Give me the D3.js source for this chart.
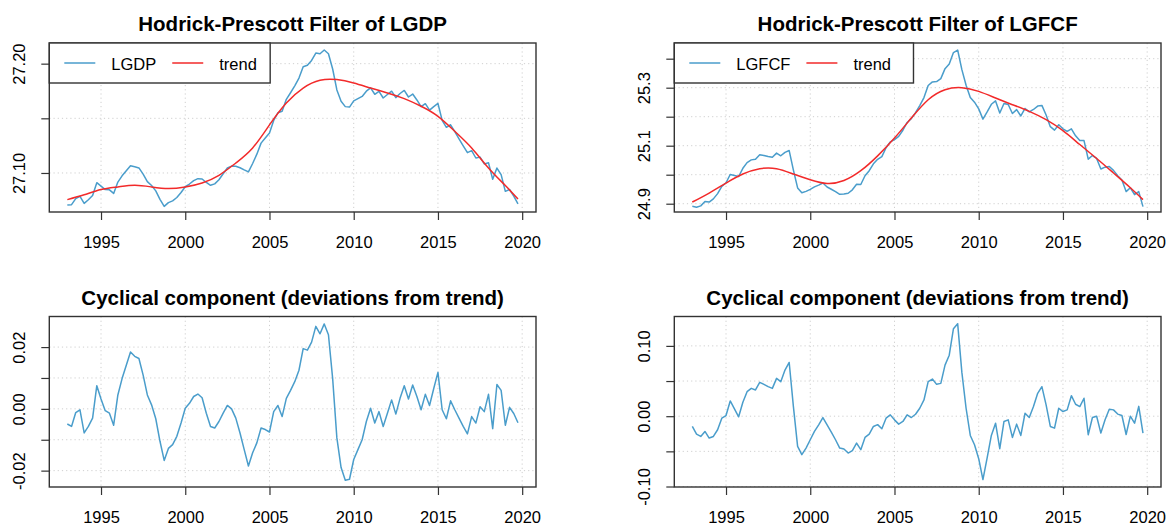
<!DOCTYPE html>
<html><head><meta charset="utf-8">
<script src="https://cdn.jsdelivr.net/npm/d3@7"></script>
<style>
body{margin:0;background:#fff}
svg{display:block}
text{font-family:"Liberation Sans",Arial,sans-serif;fill:#000}
</style></head>
<body><svg id="chart" width="1173" height="527"></svg>
<script>
// ---------------- DATA ----------------
// quarterly time index 1993Q1 .. 2019Q4
const quarters = d3.range(108).map(i => 1993 + i / 4);

const lgdp = [27.0707,27.0710,27.0766,27.0786,27.0722,27.0755,27.0794,27.0911,
27.0880,27.0848,27.0846,27.0813,27.0917,27.0974,27.1021,27.1067,
27.1057,27.1046,27.0989,27.0921,27.0885,27.0836,27.0759,27.0694,
27.0729,27.0745,27.0776,27.0822,27.0874,27.0899,27.0930,27.0948,
27.0945,27.0913,27.0887,27.0900,27.0938,27.0993,27.1046,27.1063,
27.1061,27.1048,27.1028,27.1010,27.1087,27.1172,27.1273,27.1320,
27.1365,27.1481,27.1551,27.1565,27.1674,27.1734,27.1797,27.1868,
27.1972,27.1985,27.2029,27.2097,27.2091,27.2125,27.2091,27.1951,
27.1760,27.1656,27.1607,27.1603,27.1659,27.1680,27.1700,27.1748,
27.1779,27.1720,27.1746,27.1686,27.1718,27.1748,27.1689,27.1727,
27.1755,27.1695,27.1722,27.1668,27.1607,27.1634,27.1575,27.1607,
27.1636,27.1481,27.1418,27.1441,27.1378,27.1313,27.1248,27.1186,
27.1204,27.1137,27.1145,27.1083,27.1093,27.0942,27.1045,27.0985,
27.0832,27.0849,27.0788,27.0717];

const trendYears = [1993,1994,1995,1996,1997,1998,1999,2000,2001,2002,2003,2004,2005,
2006,2007,2008,2009,2010,2011,2012,2013,2014,2015,2016,2017,2018,2019,2019.75];

const lgdpTrend = [27.0756,27.0800,27.0848,27.0872,27.0887,27.0872,27.0857,27.0872,
27.0909,27.0979,27.1091,27.1229,27.1440,27.1640,27.1777,27.1848,27.1854,27.1823,
27.1777,27.1732,27.1680,27.1610,27.1518,27.1381,27.1229,27.1046,27.0885,27.0762];

const lgdpCycle = [-0.0049,-0.0057,-0.0012,-0.0003,-0.0078,-0.0057,-0.0030,0.0075,
0.0032,-0.0006,-0.0014,-0.0053,0.0045,0.0098,0.0141,0.0184,
0.0170,0.0163,0.0109,0.0045,0.0013,-0.0032,-0.0105,-0.0167,
-0.0128,-0.0116,-0.0089,-0.0046,0.0002,0.0018,0.0040,0.0048,
0.0036,-0.0014,-0.0057,-0.0062,-0.0041,-0.0014,0.0011,0.0000,
-0.0030,-0.0078,-0.0132,-0.0185,-0.0142,-0.0110,-0.0062,-0.0067,
-0.0075,-0.0009,0.0011,-0.0025,0.0034,0.0060,0.0088,0.0125,
0.0195,0.0190,0.0216,0.0267,0.0243,0.0275,0.0240,0.0098,
-0.0094,-0.0190,-0.0231,-0.0228,-0.0164,-0.0132,-0.0100,-0.0041,
0.0002,-0.0046,-0.0009,-0.0057,-0.0014,0.0029,-0.0017,0.0034,
0.0075,0.0032,0.0077,0.0040,-0.0003,0.0047,0.0011,0.0066,
0.0118,-0.0003,-0.0032,0.0026,-0.0003,-0.0030,-0.0057,-0.0081,
-0.0025,-0.0046,0.0007,-0.0009,0.0047,-0.0064,0.0079,0.0060,
-0.0053,0.0005,-0.0015,-0.0045];

const lgfcf = [24.8911,24.8880,24.8925,24.9073,24.9057,24.9166,24.9348,24.9599,
24.9722,25.0008,24.9972,24.9937,25.0221,25.0418,25.0511,25.0534,
25.0688,25.0660,25.0627,25.0603,25.0745,25.0652,25.0771,25.0833,
25.0160,24.9545,24.9379,24.9424,24.9493,24.9579,24.9641,24.9713,
24.9577,24.9499,24.9415,24.9322,24.9333,24.9361,24.9479,24.9672,
24.9662,24.9964,25.0139,25.0376,25.0530,25.0625,25.0929,25.1130,
25.1212,25.1324,25.1534,25.1801,25.1935,25.2140,25.2383,25.2659,
25.3077,25.3200,25.3212,25.3312,25.3657,25.3816,25.4211,25.4299,
25.3623,25.3082,25.2663,25.2500,25.2270,25.1916,25.2165,25.2428,
25.2545,25.2125,25.2454,25.2420,25.2112,25.2244,25.2025,25.2284,
25.2165,25.2249,25.2366,25.2389,25.2057,25.1656,25.1537,25.1725,
25.1583,25.1492,25.1579,25.1342,25.1177,25.1175,25.0536,25.0661,
25.0560,25.0195,25.0260,25.0285,25.0150,24.9963,24.9815,24.9418,
24.9550,24.9313,24.9417,24.8900];

const lgfcfTrend = [24.9057,24.9368,24.9713,25.0023,25.0207,25.0207,25.0023,24.9828,
24.9700,24.9800,25.0138,25.0650,25.1264,25.1954,25.2586,25.2931,25.3000,25.2874,
25.2644,25.2414,25.2184,25.1897,25.1517,25.1040,25.0560,25.0060,24.9550,24.9140];

const lgfcfCycle = [-0.0146,-0.0255,-0.0288,-0.0217,-0.0311,-0.0288,-0.0193,-0.0028,
0.0009,0.0217,0.0104,-0.0009,0.0198,0.0349,0.0396,0.0373,
0.0481,0.0453,0.0420,0.0396,0.0538,0.0491,0.0656,0.0764,
0.0137,-0.0429,-0.0547,-0.0453,-0.0335,-0.0217,-0.0123,-0.0019,
-0.0123,-0.0226,-0.0335,-0.0453,-0.0467,-0.0524,-0.0490,-0.0382,
-0.0476,-0.0302,-0.0255,-0.0146,-0.0120,-0.0179,-0.0028,0.0019,
-0.0052,-0.0113,-0.0075,0.0019,-0.0019,0.0028,0.0113,0.0231,
0.0491,0.0528,0.0453,0.0467,0.0726,0.0868,0.1245,0.1316,
0.0623,0.0113,-0.0274,-0.0406,-0.0604,-0.0901,-0.0594,-0.0274,
-0.0099,-0.0462,-0.0075,-0.0052,-0.0302,-0.0113,-0.0274,0.0042,
-0.0019,0.0137,0.0325,0.0420,0.0160,-0.0146,-0.0170,0.0113,
0.0066,0.0090,0.0292,0.0170,0.0137,0.0255,-0.0264,-0.0019,
0.0000,-0.0240,-0.0050,0.0100,0.0090,0.0030,0.0010,-0.0260,
0.0000,-0.0100,0.0140,-0.0240];

const xTicks = [1995, 2000, 2005, 2010, 2015, 2020];
const lgdpYTicks = [27.10, 27.15, 27.20];
const lgdpYLabels = {"27.1": "27.10", "27.2": "27.20"};
const lgfcfYTicks = [24.9, 25.0, 25.1, 25.2, 25.3, 25.4];
const lgfcfYLabels = {"24.9": "24.9", "25.1": "25.1", "25.3": "25.3"};
const cyc1YTicks = [-0.02, -0.01, 0, 0.01, 0.02];
const cyc1YLabels = {"-0.02": "-0.02", "0": "0.00", "0.02": "0.02"};
const cyc2YTicks = [-0.10, -0.05, 0, 0.05, 0.10];
const cyc2YLabels = {"-0.1": "-0.10", "0": "0.00", "0.1": "0.10"};

// ---------------- STYLE / LAYOUT ----------------
const BLUE = "#4a9dcb", RED = "#f22a2a";
const xDomain = [1991.93, 2020.82];
const svg = d3.select("#chart");

const panels = [
  {box:[49.3,536,43,212], yDomain:[27.0643,27.2189], yTicks:lgdpYTicks, yLabels:lgdpYLabels,
   title:"Hodrick-Prescott Filter of LGDP",
   lines:[{x:quarters,y:lgdp,color:BLUE},{x:trendYears,y:lgdpTrend,color:RED,smooth:true}],
   legend:[["LGDP",BLUE],["trend",RED]]},
  {box:[674.3,1161,43,212], yDomain:[24.8714,25.4541], yTicks:lgfcfYTicks, yLabels:lgfcfYLabels,
   title:"Hodrick-Prescott Filter of LGFCF",
   lines:[{x:quarters,y:lgfcf,color:BLUE},{x:trendYears,y:lgfcfTrend,color:RED,smooth:true}],
   legend:[["LGFCF",BLUE],["trend",RED]]},
  {box:[49.3,536,316.5,487], yDomain:[-0.0253,0.0299], yTicks:cyc1YTicks, yLabels:cyc1YLabels,
   title:"Cyclical component (deviations from trend)",
   lines:[{x:quarters,y:lgdpCycle,color:BLUE}]},
  {box:[674.3,1161,316.5,487], yDomain:[-0.1007,0.1418], yTicks:cyc2YTicks, yLabels:cyc2YLabels,
   title:"Cyclical component (deviations from trend)",
   lines:[{x:quarters,y:lgfcfCycle,color:BLUE}]}
];

panels.forEach(p => {
  const [x0,x1,y0,y1] = p.box;
  const x = d3.scaleLinear().domain(xDomain).range([x0,x1]);
  const y = d3.scaleLinear().domain(p.yDomain).range([y1,y0]);
  const g = svg.append("g");

  // grid
  g.selectAll(".gx").data(xTicks).join("line")
    .attr("x1",d=>x(d)).attr("x2",d=>x(d)).attr("y1",y0).attr("y2",y1)
    .attr("stroke","#cfcfcf").attr("stroke-width",1).attr("stroke-dasharray","1.2,3");
  g.selectAll(".gy").data(p.yTicks).join("line")
    .attr("x1",x0).attr("x2",x1).attr("y1",d=>y(d)).attr("y2",d=>y(d))
    .attr("stroke","#cfcfcf").attr("stroke-width",1).attr("stroke-dasharray","1.2,3");

  // lines
  p.lines.forEach(l => {
    const gen = d3.line().x((d,i)=>x(l.x[i])).y(d=>y(d));
    if (l.smooth) gen.curve(d3.curveNatural);
    g.append("path").datum(l.y).attr("d",gen)
      .attr("fill","none").attr("stroke",l.color).attr("stroke-width",1.5)
      .attr("stroke-linejoin","round");
  });

  // axes
  const ax = g.append("g").attr("transform",`translate(0,${y1})`)
    .call(d3.axisBottom(x).tickValues(xTicks).tickSize(8).tickSizeOuter(0).tickPadding(10).tickFormat(d3.format("d")));
  ax.select(".domain").remove();
  ax.selectAll("line").attr("stroke","#333").attr("stroke-width",1.2);
  ax.selectAll("text").attr("font-size","16.5px").attr("font-family","Liberation Sans, Arial, sans-serif")
    .attr("fill","#222").attr("dy",null).attr("y",30).attr("dominant-baseline","central");

  const ay = g.append("g").attr("transform",`translate(${x0},0)`)
    .call(d3.axisLeft(y).tickValues(p.yTicks).tickSize(8).tickSizeOuter(0)
      .tickFormat(d => p.yLabels[String(+d.toFixed(2))] || ""));
  ay.select(".domain").remove();
  ay.selectAll("line").attr("stroke","#333").attr("stroke-width",1.2);
  ay.selectAll("text").attr("font-size","16.5px").attr("font-family","Liberation Sans, Arial, sans-serif")
    .attr("fill","#222").attr("dy",null).attr("x",0).attr("y",-30)
    .attr("transform","rotate(-90)").attr("text-anchor","middle").attr("dominant-baseline","central");

  // box
  g.append("rect").attr("x",x0).attr("y",y0).attr("width",x1-x0).attr("height",y1-y0)
    .attr("fill","none").attr("stroke","#333").attr("stroke-width",1.4);

  // title
  g.append("text").attr("x",(x0+x1)/2).attr("y",y0-12).attr("text-anchor","middle")
    .attr("font-weight","bold").attr("font-size","20.5px").text(p.title);

  // legend
  if (p.legend) {
    const lg = g.append("g");
    const ly = 63;
    const texts = p.legend.map(([t]) => t);
    const tmp = lg.selectAll(".tmp").data(texts).join("text").attr("font-size","16.5px").text(d=>d);
    const maxW = d3.max(tmp.nodes(), n => n.getComputedTextLength());
    tmp.remove();
    const stride = maxW + 63;
    const w = 62 + stride + maxW + 6;
    lg.append("rect").attr("x",x0).attr("y",y0).attr("width",w).attr("height",83-y0)
      .attr("fill","#fff").attr("stroke","#333").attr("stroke-width",1.4);
    p.legend.forEach(([t,c],i) => {
      const ox = x0 + i*stride;
      lg.append("line").attr("x1",ox+15).attr("x2",ox+46).attr("y1",ly).attr("y2",ly)
        .attr("stroke",c).attr("stroke-width",1.5);
      lg.append("text").attr("x",ox+62).attr("y",ly+1).attr("dominant-baseline","central")
        .attr("font-size","16.5px").attr("fill","#222").text(t);
    });
  }
});
</script>
</body></html>
